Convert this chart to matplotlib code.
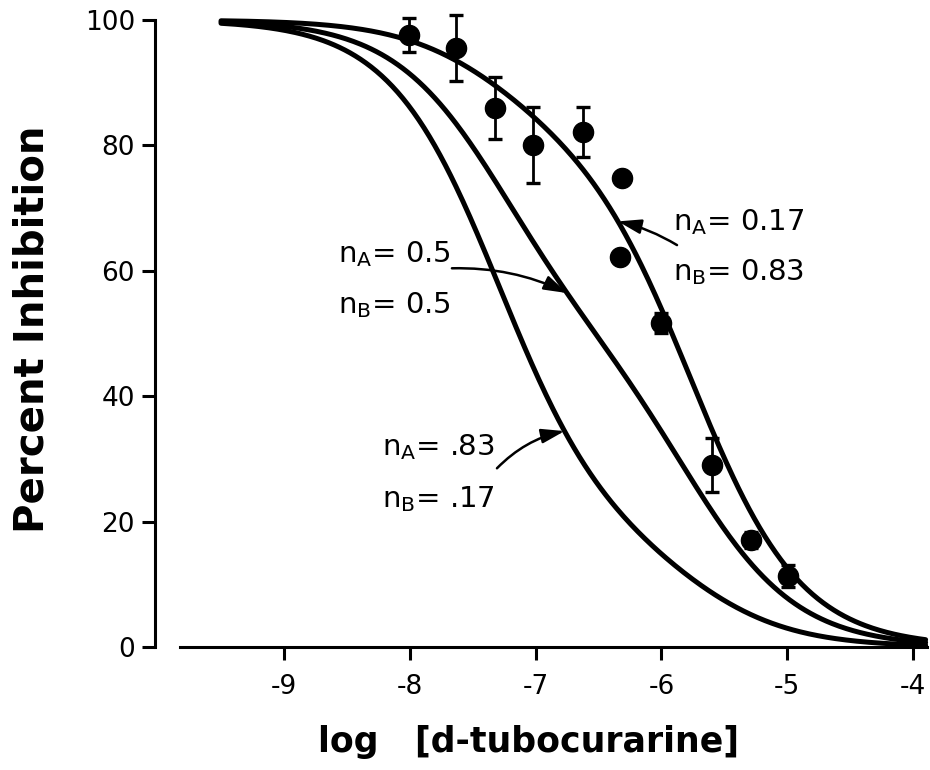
import numpy as np
import matplotlib
matplotlib.use("Agg")
import matplotlib.pyplot as plt

plt.rcParams["font.family"] = ["DejaVu Sans"]
plt.rcParams["axes.unicode_minus"] = False
plt.rcParams["mathtext.default"] = "regular"

# Measured inhibition (mean ± error) versus log concentration
log_conc = [-8.01, -7.63, -7.32, -7.02, -6.62, -6.31, -6.33, -6.00, -5.60, -5.29, -4.99]
pct_inhib = [97.6, 95.5, 86.0, 80.1, 82.1, 74.8, 62.2, 51.7, 29.0, 17.1, 11.3]
pct_err = [2.7, 5.3, 4.9, 6.1, 4.0, 0.0, 0.0, 1.6, 4.3, 1.3, 1.8]

# Two-site model: fractions of site A (high affinity) and site B (low affinity)
log_KA = -7.3
log_KB = -5.75
nA_vals = [0.17, 0.5, 0.83]
nB_vals = [0.83, 0.5, 0.17]
nA_labels = ["0.17", "0.5", ".83"]
nB_labels = ["0.83", "0.5", ".17"]
curve_range = (-9.5, -3.9)

x_ticks = [-9, -8, -7, -6, -5, -4]
y_ticks = [0, 20, 40, 60, 80, 100]


def inhibition(x, nA, nB):
    return 100.0 * (nA / (1.0 + 10.0 ** (x - log_KA)) + nB / (1.0 + 10.0 ** (x - log_KB)))


fig = plt.figure(figsize=(9.3, 7.7), dpi=100)
ax = fig.add_axes([155 / 930, 0.1435, (927 - 155) / 930, 0.8468])
ax.set_xlim(-10.025, -3.889)
ax.set_ylim(-2, 102)

# model curves
xs = np.linspace(curve_range[0], curve_range[1], 400)
for nA, nB in zip(nA_vals, nB_vals):
    ax.plot(xs, inhibition(xs, nA, nB), color="black", lw=3.6,
            solid_capstyle="round", clip_on=False, zorder=3)

# data with error bars
ax.errorbar(log_conc, pct_inhib, yerr=pct_err, fmt="o", color="black",
            markersize=14.5, elinewidth=2.0, capsize=4.9, capthick=2.4,
            zorder=4, clip_on=False)

# axes styling
for side in ("top", "right"):
    ax.spines[side].set_visible(False)
ax.spines["left"].set_position(("axes", 0))
ax.spines["left"].set_bounds(0, 100)
ax.spines["bottom"].set_position(("data", 0))
ax.spines["bottom"].set_bounds(-9.83, -3.89)
for side in ("left", "bottom"):
    ax.spines[side].set_linewidth(2.2)

ax.set_xticks(x_ticks)
ax.set_xticklabels([str(t) for t in x_ticks])
ax.set_yticks(y_ticks)
ax.set_yticklabels([str(t) for t in y_ticks])
ax.tick_params(axis="both", direction="out", length=9.4, width=2.2,
               labelsize=19, color="black")
ax.tick_params(axis="y", pad=5)
ax.tick_params(axis="x", pad=10)

fig.text(33 / 930, 1 - 329 / 770, "Percent Inhibition", rotation=90,
         ha="center", va="center", fontsize=29, fontweight="bold")
fig.text(529 / 930, 1 - 742 / 770, "log   [d-tubocurarine]",
         ha="center", va="center", fontsize=25, fontweight="bold")

# curve annotations: (text x, nA baseline y, nB baseline y, arrow start, arrow target x, rad)
annos = [
    (-5.908, 66.5, 58.5, (-5.876, 64.1), -6.345, 0.08),
    (-8.571, 61.4, 53.3, (-7.665, 60.4), -6.75, -0.12),
    (-8.221, 30.6, 22.3, (-7.307, 28.5), -6.77, -0.15),
]
for i, (tx, ya, yb, start, tip_x, rad) in enumerate(annos):
    ax.text(tx, ya, "n$_A$= " + nA_labels[i], fontsize=21, ha="left",
            va="baseline")
    ax.text(tx, yb, "n$_B$= " + nB_labels[i], fontsize=21, ha="left",
            va="baseline")
    tip_y = inhibition(tip_x, nA_vals[i], nB_vals[i])
    ax.annotate("", xy=(tip_x, tip_y), xytext=start,
                arrowprops=dict(arrowstyle="-|>,head_length=0.7,head_width=0.22",
                                connectionstyle=f"arc3,rad={rad}",
                                color="black", lw=1.8, shrinkA=0, shrinkB=0,
                                mutation_scale=20))

fig.savefig("out.png", dpi=100)
